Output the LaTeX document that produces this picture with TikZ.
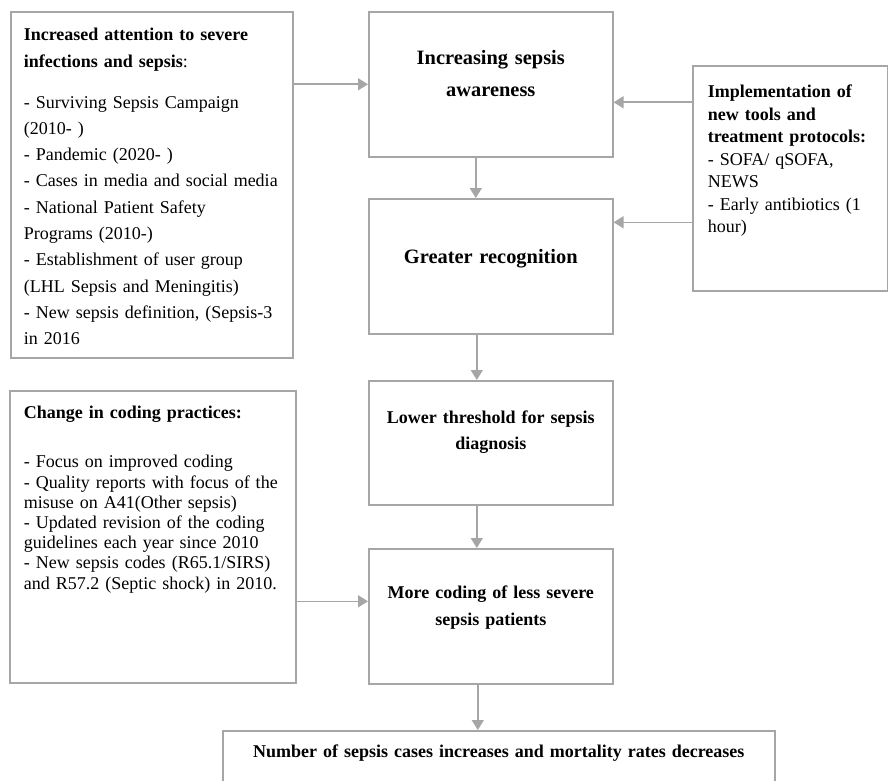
\documentclass[tikz,border=0pt]{standalone}
\usepackage{fontspec}
\setmainfont{Liberation Serif}
\usetikzlibrary{arrows.meta,calc}
\definecolor{edge}{RGB}{166,166,166}
\hyphenpenalty=10000
\exhyphenpenalty=10000

\begin{document}
\begin{tikzpicture}[x=1pt, y=-1pt,
        box/.style={draw=edge, line width=1.6pt, anchor=north west, inner xsep=15pt, inner ysep=0pt},
        lbox/.style={box, align=left, inner xsep=13pt},
        cbox/.style={box, align=center, text width=214pt},
        arr/.style={draw=edge, line width=1.6pt, -{Triangle[length=10pt,width=12pt]}}]
            \useasboundingbox (0,0) rectangle (888,781);
            \clip (0,0) rectangle (888,781);

            \node [lbox, font=\fontsize{18}{26.3}\selectfont, text width=256pt, text height=29pt, text depth=317pt] (attn) at (10,11)
                {\textbf{Increased attention to severe}\\ \textbf{infections and sepsis}:\\[14.7pt]
                - Surviving Sepsis Campaign\\ (2010- )\\ - Pandemic (2020- )\\ - Cases in media and social media\\
                - National Patient Safety\\ Programs (2010-)\\ - Establishment of user group\\
                (LHL Sepsis and Meningitis)\\ - New sepsis definition, (Sepsis-3\\ in 2016};
            \node [cbox, font=\bfseries\fontsize{20.4}{32}\selectfont, text height=53pt, text depth=92pt] (aware) at (368,11)
                {Increasing sepsis\\ awareness};
            \node [cbox, font=\bfseries\fontsize{20.4}{32}\selectfont, text height=65pt, text depth=70pt] (recog) at (368,198)
                {Greater recognition};
            \node [lbox, inner xsep=15pt, font=\fontsize{18}{22.5}\selectfont, text width=165pt, text height=32pt, text depth=193pt] (tools) at (692,65)
                {\textbf{Implementation of}\\ \textbf{new tools and}\\ \textbf{treatment protocols:}\\
                - SOFA/ qSOFA,\\ NEWS\\ - Early antibiotics (1\\ hour)};
            \node [lbox, inner xsep=14pt, font=\fontsize{18}{20.2}\selectfont, text width=258pt, text height=28pt, text depth=264pt] (coding) at (9,390)
                {\textbf{Change in coding practices:}\\[28.8pt]
                - Focus on improved coding\\ - Quality reports with focus of the\\ misuse on A41(Other sepsis)\\
                - Updated revision of the coding\\ guidelines each year since 2010\\
                - New sepsis codes (R65.1/SIRS)\\ and R57.2 (Septic shock) in 2010.};
            \node [cbox, font=\bfseries\fontsize{18}{26}\selectfont, text height=43pt, text depth=81pt] (thresh) at (368,380)
                {Lower threshold for sepsis\\ diagnosis};
            \node [cbox, font=\bfseries\fontsize{18}{27}\selectfont, text height=50pt, text depth=85pt] (more) at (368,548)
                {More coding of less severe\\ sepsis patients};
            \node [cbox, inner xsep=16pt, font=\bfseries\fontsize{18}{26}\selectfont, text width=520pt, text height=27pt, text depth=70pt] (result) at (222,730)
                {Number of sepsis cases increases and mortality rates decreases};

            \coordinate (in1) at ($(aware.east)+(0,18)$);
            \coordinate (in2) at ($(recog.east)+(0,-44)$);
            \coordinate (in3) at ($(more.west)+(0,-15)$);
            \draw [arr] (attn.east |- aware.west) -- (aware.west);
            \draw [arr] (tools.west |- in1) -- (in1);
            \draw [arr] (tools.west |- in2) -- (in2);
            \draw [arr] (coding.east |- in3) -- (in3);

            \draw [arr] ($(aware.south)+(-15,0)$) coordinate (v1) -- (v1 |- recog.north);
            \draw [arr] ($(recog.south)+(-14,0)$) coordinate (v2) -- (v2 |- thresh.north);
            \draw [arr] ($(thresh.south)+(-14,0)$) coordinate (v3) -- (v3 |- more.north);
            \draw [arr] ($(more.south)+(-13,0)$) coordinate (v4) -- (v4 |- result.north);
        \end{tikzpicture}
\end{document}
